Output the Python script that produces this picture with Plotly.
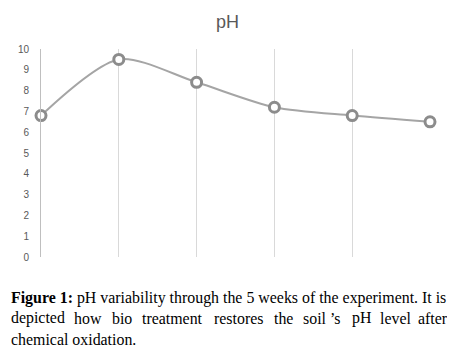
import plotly.graph_objects as go

weeks = [0, 1, 2, 3, 4, 5]
ph_values = [6.8, 9.5, 8.4, 7.2, 6.8, 6.5]
y_ticks = [0, 1, 2, 3, 4, 5, 6, 7, 8, 9, 10]
title_text = "pH"
caption_line1 = "<b>Figure 1:</b> pH variability through the 5 weeks of the experiment. It is"
caption_line2_words = ["depicted", "how", "bio", "treatment", "restores", "the", "soil ’s", "pH", "level", "after"]
caption_line3 = "chemical oxidation."

# page has an 8px body margin; work in reference-screen coordinates and shift
OFF = 8
W, H = 455 - 2 * OFF, 357 - 2 * OFF
L, T = 41 - OFF, 49 - OFF
pw, ph_ = 389, 208
R = W - L - pw
B = H - T - ph_

fig = go.Figure()
fig.add_trace(go.Scatter(
    x=weeks, y=ph_values, mode="lines+markers",
    line=dict(shape="spline", smoothing=0.8, color="#a5a5a5", width=2),
    marker=dict(symbol="circle", size=10, color="white",
                line=dict(color="#8c8c8c", width=3)),
    showlegend=False, cliponaxis=False,
))

fig.update_layout(
    width=W, height=H,
    margin=dict(l=L, r=R, t=T, b=B, pad=0, autoexpand=False),
    paper_bgcolor="white", plot_bgcolor="white",
    xaxis=dict(range=[0, 5], tickvals=weeks, showticklabels=False,
               showgrid=True, gridcolor="#d9d9d9", gridwidth=1,
               zeroline=False, showline=False, ticks=""),
    yaxis=dict(range=[0, 10], tickvals=y_ticks, showgrid=False,
               zeroline=False, showline=True, linecolor="#bfbfbf", linewidth=1,
               ticks="", ticklabelstandoff=9,
               tickfont=dict(family="Liberation Sans, Arial", size=10, color="#595959")),
    font=dict(family="Liberation Sans, Arial"),
)


def px_x(x):
    return (x - OFF - L) / pw


def px_y(y):
    return (H - B - (y - OFF)) / ph_


fig.add_annotation(text=title_text, xref="paper", yref="paper",
                   x=px_x(227), y=px_y(22), xanchor="center", yanchor="middle",
                   showarrow=False,
                   font=dict(family="Liberation Sans, Arial", size=18, color="#595959"))

serif = dict(family="Liberation Serif, Times New Roman, serif", size=15.9, color="black")
fig.add_annotation(text=caption_line1, xref="paper", yref="paper",
                   x=px_x(9), y=px_y(298), xanchor="left", yanchor="middle",
                   showarrow=False, font=serif)
fig.add_annotation(text=caption_line3, xref="paper", yref="paper",
                   x=px_x(9), y=px_y(339), xanchor="left", yanchor="middle",
                   showarrow=False, font=serif)
# justified second line: word left edges
word_left = [9, 72, 110, 140, 212, 272, 301, 350, 378, 416]
for w, xl in zip(caption_line2_words, word_left):
    fig.add_annotation(text=w, xref="paper", yref="paper",
                       x=px_x(xl), y=px_y(318), xanchor="left", yanchor="middle",
                       showarrow=False, font=serif)

fig.write_html("out.html")
